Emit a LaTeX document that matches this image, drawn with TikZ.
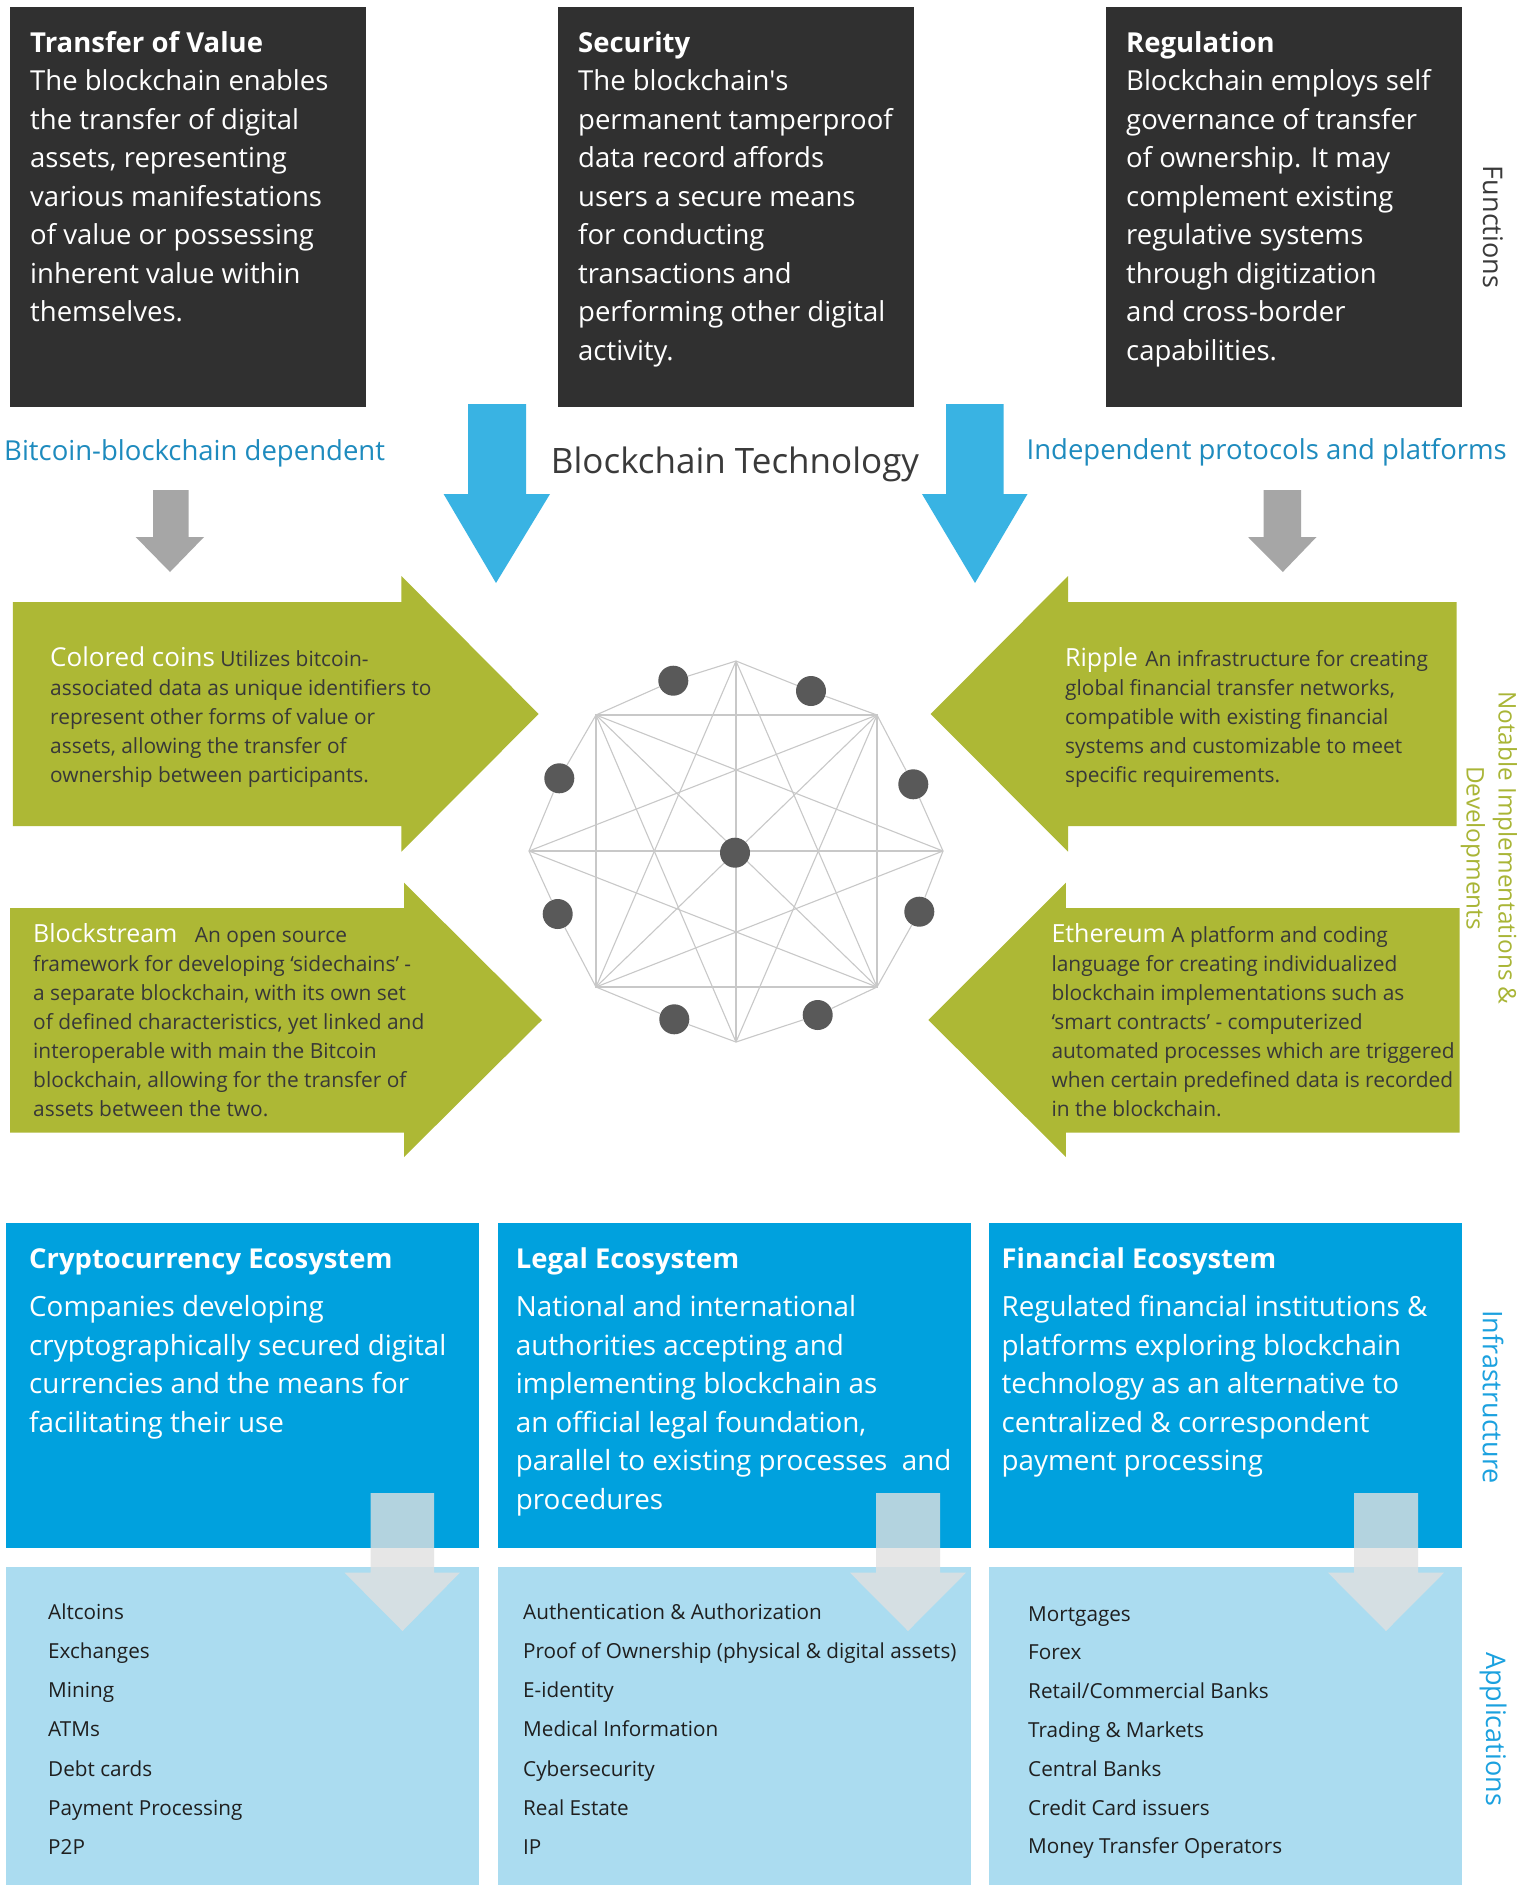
\documentclass[tikz,border=0pt]{standalone}
\usepackage{fontspec}
\setmainfont{Open Sans}
\definecolor{boxdark}{HTML}{303030}
\definecolor{lblue}{HTML}{1E8BBE}
\definecolor{arrblue}{HTML}{39B3E3}
\definecolor{arrgray}{HTML}{A6A6A6}
\definecolor{olive}{HTML}{ADB835}
\definecolor{oltext}{HTML}{383838}
\definecolor{infra}{HTML}{00A1DE}
\definecolor{appl}{HTML}{ABDCF0}
\definecolor{netline}{HTML}{C8C8C8}
\definecolor{netdot}{HTML}{595959}
\definecolor{vlblue}{HTML}{1BA1DF}
\definecolor{vlgreen}{HTML}{A9B536}
\definecolor{vlgray}{HTML}{3A3A3A}
\definecolor{lighta}{HTML}{E0E0E0}
\definecolor{apptext}{HTML}{1F1F1F}
\tikzset{
  darkbox/.style={fill=boxdark, inner sep=0pt, minimum width=356pt, minimum height=400pt},
  infbox/.style={fill=infra, inner sep=0pt, minimum width=473pt, minimum height=325pt},
  appbox/.style={fill=appl, inner sep=0pt, minimum width=473pt, minimum height=318pt},
  toptxt/.style={text=white, align=left, inner sep=0pt, anchor=base west, font={\fontsize{27.5}{38.5}\selectfont}},
  grtxt/.style={text=oltext, align=left, inner sep=0pt, anchor=base west, font={\fontsize{20.9}{29}\selectfont}},
  inftitle/.style={text=white, inner sep=0pt, anchor=base west, font={\fontsize{27.4}{32}\selectfont\bfseries}},
  inftxt/.style={text=white, align=left, inner sep=0pt, anchor=base west, font={\fontsize{27.8}{38.5}\selectfont}},
  apptxt/.style={text=apptext, align=left, inner sep=0pt, anchor=base west, font={\fontsize{20.7}{39.3}\selectfont}},
  bluelbl/.style={text=lblue, inner sep=0pt, font={\fontsize{27.5}{32}\selectfont}},
  sidelbl/.style={rotate=-90, inner sep=0pt, align=center, font={\fontsize{27}{32}\selectfont}},
  netdotst/.style={circle, fill=netdot, inner sep=0pt, minimum size=30pt},
  netedge/.style={draw=netline, line width=1.1pt},
  olivearrow/.style={fill=olive},
  lightarrow/.style={fill=lighta, fill opacity=0.8},
}
% multi-line nodes are anchored at the baseline of their LAST line
\newcommand{\grtitle}[2][25]{{\fontsize{#1}{29}\selectfont\color{white}#2}}
\begin{document}
\begin{tikzpicture}[x=1pt,y=-1pt]
\useasboundingbox (0,0) rectangle (1522,1885);
\fill[white] (0,0) rectangle (1522,1885);

% ---------- Functions boxes ----------
\node[darkbox] (f1) at (188,207) {};
\node[darkbox] (f2) at (736,207) {};
\node[darkbox] (f3) at (1284,207) {};
\node[toptxt] (f1t) at (30,321.5) {\textbf{Transfer of Value}\\The blockchain enables\\the transfer of digital\\assets, representing\\various manifestations\\of value or possessing\\inherent value within\\themselves.};
\node[toptxt] (f2t) at (578,360) {\textbf{Security}\\The blockchain\textquotesingle s\\permanent tamperproof\\data record affords\\users a secure means\\for conducting\\transactions and\\performing other digital\\activity.};
\node[toptxt] (f3t) at (1126,360) {\textbf{Regulation}\\Blockchain employs self\\governance of transfer\\of ownership. It may\\complement existing\\regulative systems\\through digitization\\and cross-border\\capabilities.};

% ---------- labels ----------
\node[bluelbl, anchor=base west] (lbd) at (4,460) {Bitcoin-blockchain dependent};
\node[bluelbl, anchor=base east] (lip) at (1507,459) {Independent protocols and platforms};
\node[inner sep=0pt, anchor=base, text=vlgray, font={\fontsize{35}{40}\selectfont}] (bt) at (735,473) {Blockchain Technology};

% ---------- big blue and gray arrows ----------
\fill[arrblue] (468,404) -- (526,404) -- (526,494) -- (550,494) -- (496,583) -- (443.6,494) -- (468,494) -- cycle;
\fill[arrblue] (946,404) -- (1003.7,404) -- (1003.7,494) -- (1027.5,494) -- (975,583) -- (922,494) -- (946,494) -- cycle;
\fill[arrgray] (153,490) -- (188.6,490) -- (188.6,537) -- (204,537) -- (170,572) -- (135.7,537) -- (153,537) -- cycle;
\fill[arrgray] (1263.6,490) -- (1301,490) -- (1301,537) -- (1316.5,537) -- (1282.8,572) -- (1248,537) -- (1263.6,537) -- cycle;

% ---------- olive arrows ----------
\fill[olivearrow] (12.9,602) -- (401.4,602) -- (401.4,576) -- (538.6,714) -- (401.4,851.7) -- (401.4,826) -- (12.9,826) -- cycle;
\fill[olivearrow] (10,908) -- (404,908) -- (404,882.7) -- (542,1020) -- (404,1157) -- (404,1132.7) -- (10,1132.7) -- cycle;
\fill[olivearrow] (1456.7,602) -- (1068,602) -- (1068,576) -- (930.7,714) -- (1068,851.7) -- (1068,826) -- (1456.7,826) -- cycle;
\fill[olivearrow] (1459.7,908) -- (1065.9,908) -- (1065.9,882.7) -- (928.4,1020) -- (1065.9,1157) -- (1065.9,1132.7) -- (1459.7,1132.7) -- cycle;

\node[grtxt] (cc) at (50,782) {\grtitle[26]{Colored coins} Utilizes bitcoin-\\associated data as unique identifiers to\\represent other forms of value or\\assets, allowing the transfer of\\ownership between participants.};
\node[grtxt] (bs) at (33,1116.7) {\grtitle{Blockstream}\hspace{12pt} An open source\\framework for developing `sidechains' -\\a separate blockchain, with its own set\\of defined characteristics, yet linked and\\interoperable with main the Bitcoin\\blockchain, allowing for the transfer of\\assets between the two.};
\node[grtxt] (rp) at (1065,782) {\grtitle{Ripple}\hspace{2pt} An infrastructure for creating\\global financial transfer networks,\\compatible with existing financial\\systems and customizable to meet\\specific requirements.};
\node[grtxt] (et) at (1051.3,1116.7) {\grtitle{Ethereum} A platform and coding\\language for creating individualized\\blockchain implementations such as\\`smart contracts' - computerized\\automated processes which are triggered\\when certain predefined data is recorded\\in the blockchain.};

% ---------- network ----------
\coordinate (T) at (736,661);
\coordinate (B) at (736,1042);
\coordinate (L) at (529,851);
\coordinate (R) at (943,851);
\coordinate (TL) at (596,715);
\coordinate (TR) at (877,715);
\coordinate (BL) at (596,987);
\coordinate (BR) at (877,987);
\node[netdotst] (d1) at (673.3,680.7) {};
\node[netdotst] (d2) at (811,691) {};
\node[netdotst] (d3) at (559.3,778.3) {};
\node[netdotst] (d4) at (913.3,784.3) {};
\node[netdotst] (d5) at (557.7,914) {};
\node[netdotst] (d6) at (919.3,911.7) {};
\node[netdotst] (d7) at (674.3,1019.3) {};
\node[netdotst] (d8) at (817.7,1015) {};
\draw[netedge] (T) -- (d1) -- (TL) -- (d3) -- (L) -- (d5) -- (BL) -- (d7) -- (B) -- (d8) -- (BR) -- (d6) -- (R) -- (d4) -- (TR) -- (d2) -- (T);
\draw[netedge] (TL) -- (TR) -- (BR) -- (BL) -- cycle;
\draw[netedge] (T) -- (B);
\draw[netedge] (L) -- (R);
\draw[netedge] (TL) -- (BR);
\draw[netedge] (TR) -- (BL);
\draw[netedge] (T) -- (BL);
\draw[netedge] (T) -- (BR);
\draw[netedge] (B) -- (TL);
\draw[netedge] (B) -- (TR);
\draw[netedge] (L) -- (TR);
\draw[netedge] (L) -- (BR);
\draw[netedge] (R) -- (TL);
\draw[netedge] (R) -- (BL);
\node[netdotst] (cn) at (735,852.7) {};

% ---------- infrastructure & applications ----------
\node[infbox] (i1) at (242.5,1385.2) {};
\node[infbox] (i2) at (734.5,1385.2) {};
\node[infbox] (i3) at (1225.4,1385.2) {};
\node[appbox] (a1) at (242.5,1726) {};
\node[appbox] (a2) at (734.5,1726) {};
\node[appbox] (a3) at (1225.4,1726) {};

\fill[lightarrow] (370.5,1493) -- (434,1493) -- (434,1572.7) -- (459.8,1572.7) -- (402.5,1631) -- (344.6,1572.7) -- (370.5,1572.7) -- cycle;
\fill[lightarrow] (876,1493) -- (940,1493) -- (940,1572.7) -- (966,1572.7) -- (908,1631) -- (850,1572.7) -- (876,1572.7) -- cycle;
\fill[lightarrow] (1354,1493) -- (1418,1493) -- (1418,1572.7) -- (1444,1572.7) -- (1386,1631) -- (1328,1572.7) -- (1354,1572.7) -- cycle;

\node[inftitle] (i1h) at (29,1268) {Cryptocurrency Ecosystem};
\node[inftitle] (i2h) at (515.7,1268) {Legal Ecosystem};
\node[inftitle] (i3h) at (1001.4,1268) {Financial Ecosystem};
\node[inftxt] (i1t) at (29,1432) {Companies developing\\cryptographically secured digital\\currencies and the means for\\facilitating their use};
\node[inftxt] (i2t) at (515.7,1509) {National and international\\authorities accepting and\\implementing blockchain as\\an official legal foundation,\\parallel to existing processes\ \ and\\procedures};
\node[inftxt] (i3t) at (1001.4,1470.5) {Regulated financial institutions \&\\platforms exploring blockchain\\technology as an alternative to\\centralized \& correspondent\\payment processing};

\node[apptxt] (a1t) at (48,1854.8) {Altcoins\\Exchanges\\Mining\\ATMs\\Debt cards\\Payment Processing\\P2P};
\node[apptxt] (a2t) at (523,1854.8) {Authentication \& Authorization\\Proof of Ownership (physical \& digital assets)\\E-identity\\Medical Information\\Cybersecurity\\Real Estate\\IP};
\node[apptxt, font={\fontsize{20.7}{38.8}\selectfont}] (a3t) at (1028,1853.8) {Mortgages\\Forex\\Retail/Commercial Banks\\Trading \& Markets\\Central Banks\\Credit Card issuers\\Money Transfer Operators};

% ---------- side labels ----------
\node[sidelbl, text=vlgray] (sf) at (1493,227) {Functions};
\node[sidelbl, text=vlgreen, font={\fontsize{24.3}{32}\selectfont}] (sn) at (1489,848) {Notable Implementations \&\\Developments};
\node[sidelbl, text=vlblue] (si) at (1493,1397) {Infrastructure};
\node[sidelbl, text=vlblue] (sa) at (1493,1729) {Applications};
\end{tikzpicture}
\end{document}
